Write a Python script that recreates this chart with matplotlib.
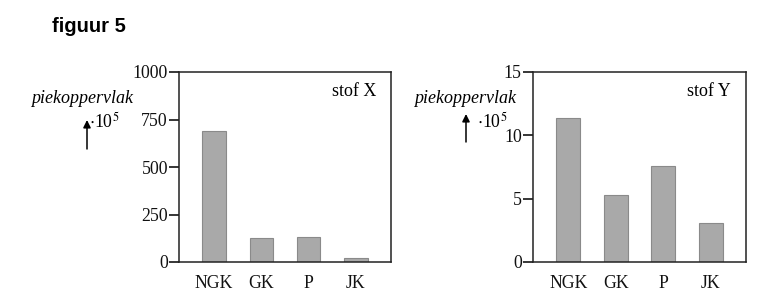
import matplotlib
matplotlib.use('Agg')
import matplotlib.pyplot as plt
from matplotlib.patches import FancyArrowPatch

categories = ['NGK', 'GK', 'P', 'JK']
stof_x = [691, 125, 130, 22]
stof_y = [11.4, 5.26, 7.58, 3.05]
x_ticks = [0, 250, 500, 750, 1000]
y_ticks = [0, 5, 10, 15]

W, H = 766, 302
SERIF = ['Liberation Serif', 'DejaVu Serif']
BAR_FACE = '#a9a9a9'
BAR_EDGE = '#8a8a8a'


def px(x, y):
    """pixel (vanaf linksboven) -> figuurcoordinaten"""
    return x / W, 1 - y / H


def panel(fig, x0, x1, values, ticks, label):
    ax = fig.add_axes([x0 / W, 40 / H, (x1 - x0) / W, 190 / H])
    pos = range(len(categories))
    ax.bar(pos, values, width=0.5, color=BAR_FACE, edgecolor=BAR_EDGE, linewidth=0.8)
    ax.set_xlim(-0.74, 3.74)
    ax.set_ylim(ticks[0], ticks[-1])
    ax.set_yticks(ticks)
    ax.set_xticks(list(pos))
    ax.set_xticklabels(categories)
    for s in ax.spines.values():
        s.set_linewidth(1.1)
        s.set_color('#222222')
    ax.tick_params(axis='y', direction='out', length=7, width=1.1, pad=1)
    ax.tick_params(axis='x', length=0, pad=9)
    for t in ax.get_xticklabels() + ax.get_yticklabels():
        t.set_fontfamily(SERIF)
        t.set_fontsize(12.8)
        t.set_color('#111111')
    ax.text(0.93, 0.9, label, transform=ax.transAxes, ha='right', va='center',
            family=SERIF, fontsize=13)
    return ax


fig = plt.figure(figsize=(W / 100, H / 100), dpi=100)
fig.patch.set_facecolor('white')

fig.text(*px(52, 32), 'figuur 5', family=['Liberation Sans', 'DejaVu Sans'],
         fontweight='bold', fontsize=14.5, ha='left', va='baseline')

panel(fig, 179, 391, stof_x, x_ticks, 'stof X')
panel(fig, 533, 746, stof_y, y_ticks, 'stof Y')

# aslabels met pijl
for lx, dx, arrow_x, tip, base in [(31, 89, 87, 120, 149), (414, 477, 466, 114, 142)]:
    fig.text(*px(lx, 103), 'piekoppervlak', family=SERIF, style='italic',
             fontsize=13, ha='left', va='baseline')
    fig.text(*px(dx, 128), r'$\cdot$10$^5$', family=SERIF, fontsize=12.8,
             ha='left', va='baseline', math_fontfamily='stix')
    arrow = FancyArrowPatch(px(arrow_x, base), px(arrow_x, tip),
                            transform=fig.transFigure, arrowstyle='-|>',
                            color='black', lw=1.1, mutation_scale=11,
                            shrinkA=0, shrinkB=0)
    fig.add_artist(arrow)

fig.savefig('out.png', dpi=100)
